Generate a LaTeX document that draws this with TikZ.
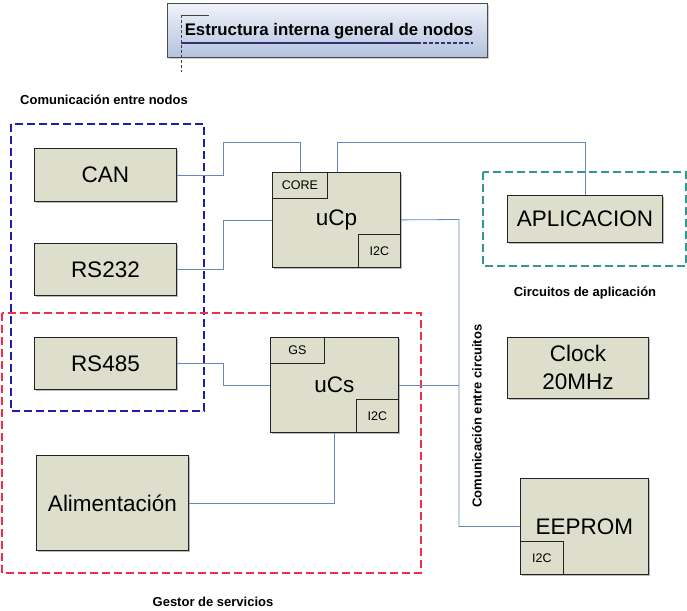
\documentclass[tikz,border=0pt]{standalone}
\usepackage{fontspec}
\setmainfont{Liberation Sans}
\usetikzlibrary{shadows,calc}
\definecolor{boxfill}{RGB}{221,223,204}
\definecolor{boxline}{RGB}{35,35,35}
\definecolor{conncol}{RGB}{105,135,190}
\definecolor{bluedash}{RGB}{30,30,170}
\definecolor{reddash}{RGB}{240,45,75}
\definecolor{tealdash}{RGB}{50,150,145}
\definecolor{ttltop}{RGB}{240,243,250}
\definecolor{ttlbot}{RGB}{178,194,222}
\begin{document}
\begin{tikzpicture}[x=1pt,y=-1pt,
  blk/.style={draw=boxline, line width=0.8pt, fill=boxfill, anchor=north west, inner sep=0pt,
    drop shadow={shadow xshift=1.2pt, shadow yshift=-1.2pt, fill=black!45, opacity=0.6},
    font=\fontsize{22.5}{28}\selectfont},
  sub/.style={draw=boxline, line width=0.8pt, fill=boxfill, inner sep=0pt, font=\fontsize{12.5}{14}\selectfont},
  conn/.style={draw=conncol, line width=0.8pt},
  grp/.style={line width=1.3pt, dash pattern=on 8pt off 4pt},
  lbl/.style={font=\fontsize{13}{15}\selectfont\bfseries, inner sep=0pt}]
\useasboundingbox (0,0) rectangle (687,610);

% title
\node[draw=black!70, line width=0.8pt, top color=ttltop, bottom color=ttlbot, anchor=north west,
  minimum width=320pt, minimum height=54pt, inner sep=0pt,
  drop shadow={shadow xshift=1.5pt, shadow yshift=-1.5pt, fill=black!40, opacity=0.5}] (ttl) at (167,3) {};
\node[font=\fontsize{16.8}{19}\selectfont\bfseries, inner sep=0pt] (ttltxt) at (329,31) {Estructura interna general de nodos};
\coordinate (tA) at (181,15);
\coordinate (tB) at (209,15);
\coordinate (tC) at (181,43);
\coordinate (tD) at (417,43);
\coordinate (tE) at (473,43);
\coordinate (tF) at (181,72);
\draw[black!75, line width=0.9pt] (tA) -- (tB);
\draw[black!75, line width=0.9pt, dash pattern=on 3pt off 2pt] (tA) -- (tF);
\draw[black!70!blue!80, line width=1.3pt] (tC) -- (tD);
\draw[black!70!blue!80, line width=1.3pt, dash pattern=on 4pt off 2pt] (tD) -- (tE);

% group frames
\draw[grp, draw=bluedash] (11,124) rectangle (204,411);
\draw[grp, draw=reddash] (2,313) rectangle (421,573);
\draw[grp, draw=tealdash] (483,172) rectangle (686,266);

\node[lbl] (lnodos) at (104,100) {Comunicación entre nodos};
\node[lbl] (lapl) at (585,293) {Circuitos de aplicación};
\node[lbl] (lgest) at (213,602) {Gestor de servicios};
\node[lbl, rotate=90] (lcirc) at (477,416) {Comunicación entre circuitos};

% blocks
\node[blk, minimum width=142pt, minimum height=53pt] (can) at (34,148) {CAN};
\node[blk, minimum width=142pt, minimum height=52pt] (rs232) at (34,243) {RS232};
\node[blk, minimum width=142pt, minimum height=52pt] (rs485) at (34,337) {RS485};
\node[blk, minimum width=152pt, minimum height=95pt] (alim) at (36,455) {Alimentación};
\node[blk, minimum width=128pt, minimum height=95pt] (ucp) at (272,172) {uCp};
\node[blk, minimum width=128pt, minimum height=95pt] (ucs) at (270,337) {uCs};
\node[blk, minimum width=155pt, minimum height=47pt] (apl) at (507,195) {APLICACION};
\node[blk, minimum width=141pt, minimum height=61pt, align=center] (clk) at (507,337) {Clock\\20MHz};
\node[blk, minimum width=128pt, minimum height=96pt] (eep) at (520,478) {\raisebox{-12pt}{EEPROM}};

% sub blocks
\node[sub, anchor=north west, minimum width=55pt, minimum height=26pt] (core) at (ucp.north west) {CORE};
\node[sub, anchor=south east, minimum width=42pt, minimum height=33pt] (i2cp) at (ucp.south east) {I2C};
\node[sub, anchor=north west, minimum width=54pt, minimum height=26pt] (gs) at (ucs.north west) {GS};
\node[sub, anchor=south east, minimum width=42pt, minimum height=33pt] (i2cs) at (ucs.south east) {I2C};
\node[sub, anchor=south west, minimum width=43pt, minimum height=33pt] (i2ce) at (eep.south west) {I2C};

% connectors
\coordinate (bus) at (459,219.5);
\draw[conn] (can.east) -- ++(47,0) -- ++(0,-32.5) -| ([xshift=28pt]ucp.north west);
\draw[conn] (rs232.east) -- ++(47,0) |- (ucp.west);
\draw[conn] (rs485.east) -- ++(47,0) |- (ucs.west);
\draw[conn] ([xshift=65pt]ucp.north west) -- ++(0,-30) -| (apl.north);
\draw[conn] (ucp.east) -- (bus) |- (eep.west);
\draw[conn] (ucs.east) -- (ucs.east -| bus);
\draw[conn] (alim.east) -| (ucs.south);
\end{tikzpicture}
\end{document}
